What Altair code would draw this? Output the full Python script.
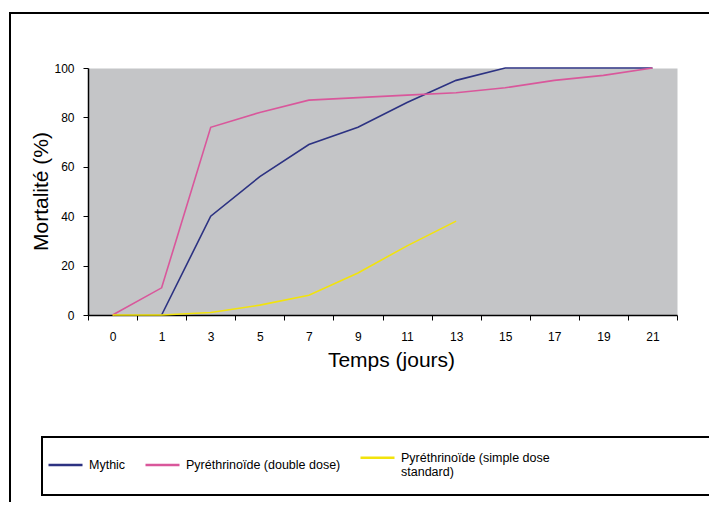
import altair as alt
import pandas as pd

days = ["0", "1", "3", "5", "7", "9", "11", "13", "15", "17", "19", "21"]
mythic = [None, 0, 40, 56, 69, 76, 86, 95, 100, 100, 100, 100]
pyr_double = [0, 11, 76, 82, 87, 88, 89, 90, 92, 95, 97, 100]
pyr_simple = [0, 0, 1, 4, 8, 17, 28, 38, None, None, None, None]
series = ["Mythic", "Pyréthrinoïde (double dose)", "Pyréthrinoïde (simple dose standard)"]
colors = ["#2c3282", "#d9579b", "#f2e30c"]
y_ticks = [0, 20, 40, 60, 80, 100]

rows = []
for name, vals in zip(series, [mythic, pyr_double, pyr_simple]):
    for d, v in zip(days, vals):
        rows.append({"jour": d, "mortalite": v, "serie": name})
df = pd.DataFrame(rows)

FONT = "Liberation Sans"

lines = alt.Chart(df).mark_line(strokeWidth=1.6).encode(
    x=alt.X("jour:N", sort=days, bandPosition=0.5,
            scale=alt.Scale(type="band", paddingInner=0, paddingOuter=0),
            axis=alt.Axis(title="Temps (jours)", labelAngle=0, tickBand="extent",
                          tickSize=5, labelPadding=11, titleY=34, titleX=303,
                          titleBaseline="top")),
    y=alt.Y("mortalite:Q", scale=alt.Scale(domain=[0, 100], nice=False),
            axis=alt.Axis(values=y_ticks, title="Mortalité (%)", tickSize=5,
                          labelPadding=9, titleX=-47, titleY=123,
                          titleBaseline="middle", titleAlign="center")),
    color=alt.Color("serie:N", sort=series,
                    scale=alt.Scale(domain=series, range=colors),
                    legend=alt.Legend(
                        title=None, orient="none", legendX=-41, legendY=371,
                        direction="horizontal", columns=3, symbolType="stroke",
                        symbolSize=1156, symbolStrokeWidth=2.5, labelFont=FONT,
                        labelFontSize=12.5, labelColor="black", labelOffset=5,
                        columnPadding=14, labelLimit=400, padding=0,
                        labelExpr="datum.label == 'Pyréthrinoïde (simple dose standard)' ? ['Pyréthrinoïde (simple dose', 'standard)'] : datum.label")),
)

one = pd.DataFrame({"a": [0]})
frame = alt.Chart(one).mark_rect(fill="white", fillOpacity=0, stroke="black", strokeWidth=2).encode(
    x=alt.value(-78), x2=alt.value(700), y=alt.value(-55), y2=alt.value(500)
)
legend_box = alt.Chart(one).mark_rect(fill="white", fillOpacity=0, stroke="black", strokeWidth=2).encode(
    x=alt.value(-46), x2=alt.value(700), y=alt.value(369), y2=alt.value(427)
)

chart = alt.layer(frame, legend_box, lines).properties(
    width=589, height=247,
    padding={"left": 80, "top": 60, "right": 32, "bottom": 187},
    autosize=alt.AutoSizeParams(type="none"),
).configure_view(fill="#c4c5c7", stroke="transparent").configure_axis(
    grid=False, domainColor="black", domainWidth=1.5, tickColor="black",
    tickWidth=1, labelFont=FONT, labelFontSize=12, labelColor="black",
    titleFont=FONT, titleFontSize=21, titleFontWeight="normal", titleColor="black"
)

chart.save("out.html", embed_options={"renderer": "svg", "actions": False})
